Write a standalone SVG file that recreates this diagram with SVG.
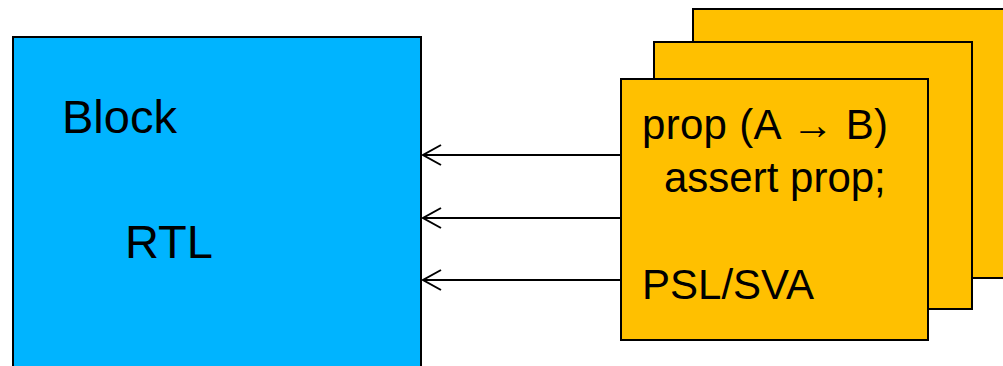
<svg xmlns="http://www.w3.org/2000/svg" width="1003" height="366" viewBox="0 0 1003 366">
<style>
.blk{fill:#00B4FF;stroke:#000;stroke-width:2}
.card{fill:#FFC000;stroke:#000;stroke-width:2}
.t{font-family:"Liberation Sans",Arial,sans-serif;fill:#000}
.c{stroke:#000;stroke-width:2;fill:none}
</style>
<defs>
<marker id="ah" markerUnits="userSpaceOnUse" markerWidth="24" markerHeight="24" refX="19" refY="11" orient="auto">
<path d="M1,1 L19,11 L1,21" fill="none" stroke="#000" stroke-width="2"/>
</marker>
</defs>
<g id="block">
<rect class="blk" x="13" y="37" width="408" height="340"/>
<text class="t" x="62" y="133" font-size="47">Block</text>
<text class="t" x="125" y="258" font-size="47">RTL</text>
</g>
<g id="card3"><rect class="card" x="693" y="9" width="320" height="269"/></g>
<g id="card2"><rect class="card" x="654" y="42" width="318" height="267"/></g>
<g id="connectors">
<line class="c" x1="621" y1="155" x2="423" y2="155" marker-end="url(#ah)"/>
<line class="c" x1="621" y1="218" x2="423" y2="218" marker-end="url(#ah)"/>
<line class="c" x1="621" y1="280" x2="423" y2="280" marker-end="url(#ah)"/>
</g>
<g id="card1">
<rect class="card" x="621" y="79" width="307" height="261"/>
<text class="t" x="642" y="139" font-size="42" textLength="246" lengthAdjust="spacing">prop (A → B)</text>
<text class="t" x="664" y="192" font-size="42">assert prop;</text>
<text class="t" x="642" y="299" font-size="42">PSL/SVA</text>
</g>
</svg>
